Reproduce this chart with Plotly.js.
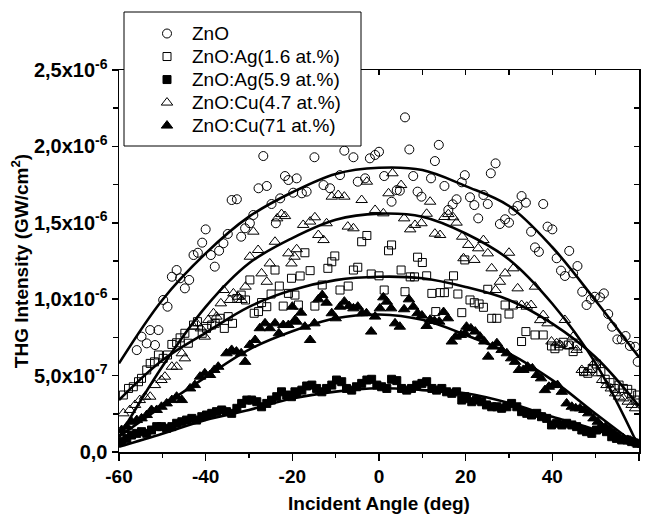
<!DOCTYPE html>
<html>
<head>
<meta charset="utf-8">
<script src="https://cdn.plot.ly/plotly-3.0.1.min.js"></script>
<style>html,body{margin:0;padding:0;background:#fff;}#chart{width:649px;height:514px;}</style>
</head>
<body>
<div id="chart"></div>
<script>
// values in units of 1e-6 GW/cm^2
const znoX = [-55.9,-54.8,-53.6,-52.8,-51.7,-50.9,-49.8,-48.8,-47.8,-46.7,-45.9,-44.8,-43.8,-42.8,-41.8,-40.8,-40.0,-38.8,-37.9,-36.9,-35.9,-34.9,-34.0,-32.8,-31.8,-30.9,-29.8,-29.0,-27.8,-26.7,-25.9,-24.8,-23.8,-22.8,-21.7,-20.9,-19.8,-19.0,-17.8,-16.7,-14.9,-12.8,-11.3,-9.0,-8.0,-5.9,-4.9,-3.2,-2.1,-0.9,0.0,1.2,2.9,4.1,4.8,6.0,7.0,7.9,8.9,9.8,12.0,12.9,13.8,15.1,16.0,17.0,17.9,19.1,19.8,21.0,22.0,22.9,24.1,25.1,25.8,26.9,27.9,29.1,30.0,31.0,32.0,32.9,33.9,35.1,36.0,36.9,37.9,38.9,40.0,41.0,42.0,42.9,43.9,44.8,45.8,46.9,47.9,48.9,49.8,51.0,51.9,52.9,53.8,55.0,56.0,56.9,57.9,59.1,59.7];
const znoY = [0.667,0.755,0.711,0.798,0.700,0.798,0.995,0.951,1.147,1.191,1.137,1.071,1.126,1.289,1.304,1.370,1.457,1.289,1.213,1.317,1.366,1.427,1.649,1.654,1.409,1.464,1.497,1.551,1.726,1.937,1.741,1.623,1.497,1.660,1.806,1.780,1.697,1.791,1.693,1.704,1.929,1.747,1.726,1.812,1.972,1.929,1.769,1.791,1.922,1.944,1.965,1.806,1.638,1.714,1.710,2.19,1.98,1.806,1.704,1.671,1.791,1.904,2.01,1.741,1.584,1.621,1.654,1.765,1.812,1.667,1.616,1.529,1.682,1.623,1.824,1.889,1.492,1.523,1.501,1.58,1.610,1.675,1.632,1.442,1.339,1.31,1.623,1.475,1.457,1.268,1.187,1.152,1.316,1.169,1.217,1.049,0.962,0.999,1.016,1.012,1.038,0.903,0.82,0.737,0.737,0.759,0.694,0.689,0.59];

const ag16X = [-59.0,-57.8,-56.7,-55.5,-54.8,-53.6,-52.8,-51.8,-50.9,-49.8,-48.8,-47.8,-46.7,-45.9,-44.8,-44.0,-42.8,-41.9,-40.8,-39.8,-38.6,-37.8,-36.7,-35.7,-34.8,-33.8,-32.8,-31.8,-30.8,-29.8,-28.8,-27.8,-27.1,-25.9,-24.9,-24.0,-23.0,-22.1,-20.9,-20.2,-19.4,-18.6,-18.2,-17.1,-15.9,-14.8,-13.1,-11.8,-10.9,-10.2,-9.0,-7.1,-5.9,-4.9,-4.0,-2.8,-1.8,0.0,1.2,2.2,2.9,5.1,6.0,7.2,8.2,8.9,10.0,11.0,12.2,13.1,14.1,15.1,16.0,17.2,18.2,19.1,19.8,21.0,22.0,23.1,24.1,25.1,26.0,27.2,29.1,30.0,31.0,32.9,33.9,36.0,37.9,39.8,40.6,41.5,42.5,43.7,44.8,45.8,47.2,48.2,49.2,50.2,51.2,52.2,53.3,54.3,55.4,56.4,57.4,58.3,59.1,59.7];
const ag16Y = [0.373,0.416,0.427,0.46,0.482,0.537,0.58,0.59,0.635,0.613,0.635,0.704,0.715,0.747,0.777,0.712,0.831,0.853,0.777,0.809,0.831,0.842,0.875,0.809,0.886,0.842,1.005,1.027,0.995,1.126,0.908,0.919,0.978,0.951,1.034,1.191,1.086,0.955,1.038,1.137,1.027,0.962,1.152,1.304,1.187,0.955,1.093,1.202,1.245,1.283,1.06,1.086,1.191,1.209,1.376,1.417,1.165,1.153,1.06,1.317,1.355,1.191,1.049,1.146,1.146,1.275,1.24,1.153,1.038,0.919,1.043,1.043,1.10,1.153,1.034,0.912,1.257,0.995,0.977,0.969,0.947,1.065,0.875,0.875,0.962,0.903,0.962,0.723,0.788,0.766,0.766,0.694,0.676,0.694,0.718,0.70,0.657,0.694,0.526,0.515,0.547,0.576,0.526,0.476,0.454,0.416,0.438,0.416,0.41,0.384,0.34,0.373];

const ag59X = [-59.4,-58.2,-57.1,-55.9,-54.8,-53.6,-52.5,-51.3,-50.2,-49.0,-47.8,-46.7,-45.5,-44.4,-43.2,-42.1,-40.9,-39.8,-38.6,-37.5,-36.3,-35.2,-34.0,-32.8,-31.7,-30.5,-29.4,-28.2,-27.1,-25.9,-24.8,-23.6,-22.5,-21.3,-20.2,-19.4,-19.0,-17.8,-16.7,-15.5,-14.4,-13.2,-12.1,-10.9,-9.8,-8.6,-7.5,-6.3,-5.2,-4.0,-2.8,-1.7,-0.5,0.6,1.8,2.9,4.1,5.2,6.4,7.5,8.7,9.9,11.0,12.2,13.3,14.5,15.6,16.8,17.9,19.1,19.8,20.2,21.4,22.5,23.7,24.8,26.0,27.2,28.3,29.5,30.6,31.8,32.9,34.1,35.2,36.4,37.5,38.7,39.8,41.0,42.2,43.3,44.5,45.6,46.8,47.9,49.1,50.2,51.4,52.5,53.7,54.8,56.0,57.2,58.3,59.5];
const ag59Y = [0.068,0.089,0.111,0.122,0.133,0.122,0.144,0.166,0.166,0.155,0.166,0.188,0.198,0.209,0.22,0.209,0.231,0.242,0.253,0.264,0.275,0.264,0.253,0.286,0.318,0.34,0.34,0.329,0.296,0.318,0.34,0.362,0.394,0.373,0.362,0.394,0.384,0.405,0.432,0.438,0.416,0.394,0.416,0.438,0.471,0.46,0.416,0.405,0.427,0.449,0.471,0.476,0.438,0.427,0.416,0.476,0.467,0.416,0.405,0.416,0.438,0.449,0.46,0.416,0.405,0.416,0.394,0.384,0.394,0.34,0.362,0.351,0.329,0.34,0.329,0.308,0.296,0.296,0.286,0.296,0.318,0.296,0.264,0.253,0.242,0.253,0.231,0.22,0.177,0.188,0.177,0.188,0.177,0.166,0.144,0.133,0.122,0.144,0.155,0.133,0.10,0.089,0.079,0.079,0.068,0.057];

const cu47X = [-59.0,-57.5,-56.3,-55.2,-54.0,-52.8,-51.7,-50.2,-49.4,-47.8,-46.7,-45.5,-44.8,-42.8,-42.1,-41.1,-40.2,-39.4,-38.2,-37.5,-36.5,-35.9,-34.4,-33.6,-32.5,-31.7,-30.8,-29.8,-29.0,-27.9,-27.1,-25.9,-25.2,-24.0,-23.5,-22.5,-21.7,-20.9,-20.2,-19.5,-19.0,-17.5,-15.9,-14.8,-14.0,-12.8,-12.1,-10.9,-9.4,-8.0,-7.2,-5.9,-4.0,-2.8,-0.9,1.0,2.2,3.1,5.1,5.8,7.2,8.3,9.8,11.0,11.8,12.9,14.1,15.1,16.0,17.1,17.9,19.2,19.5,20.6,22.0,22.9,24.1,25.1,26.0,26.9,27.9,29.1,30.0,31.0,32.0,32.9,34.1,35.1,36.0,37.2,37.9,38.9,39.8,41.0,41.8,42.9,43.8,44.8,45.6,46.8,47.8,48.7,49.7,50.6,51.5,52.5,53.5,54.5,55.4,56.4,57.4,58.3,59.1];
const cu47Y = [0.253,0.275,0.308,0.340,0.362,0.362,0.438,0.471,0.493,0.558,0.558,0.646,0.613,0.82,0.842,0.809,0.755,0.864,0.908,0.886,0.973,1.06,0.995,1.038,1.016,0.995,1.082,1.278,1.442,1.322,1.169,1.114,1.234,1.376,1.529,1.557,1.544,1.300,1.234,1.278,1.327,1.486,1.508,1.536,1.42,1.387,1.497,1.671,1.682,1.671,1.475,1.464,1.649,1.769,1.584,1.562,1.693,1.824,1.747,1.529,1.457,1.486,1.497,1.559,1.638,1.429,1.42,1.538,1.557,1.536,1.501,1.409,1.268,1.355,1.257,1.333,1.387,1.30,1.202,1.06,1.114,1.169,1.304,1.202,1.071,0.962,0.951,0.962,1.082,0.863,0.896,0.842,0.723,0.712,0.701,0.864,0.694,0.755,0.668,0.537,0.52,0.537,0.584,0.515,0.471,0.438,0.416,0.384,0.362,0.351,0.329,0.308,0.286];

const cu71X = [-59.4,-58.2,-57.1,-55.9,-54.8,-53.6,-52.5,-51.3,-50.2,-49.0,-47.8,-46.7,-45.5,-43.6,-42.5,-41.3,-40.2,-39.0,-38.0,-37.1,-35.2,-34.0,-32.9,-31.8,-30.9,-29.8,-28.6,-27.5,-26.3,-25.2,-24.0,-23.1,-22.1,-20.9,-20.0,-19.4,-19.0,-18.0,-17.1,-15.9,-14.9,-14.0,-13.1,-12.1,-10.9,-10.0,-9.0,-8.0,-6.9,-5.9,-4.9,-3.9,-2.9,-1.8,-0.9,0.2,1.0,1.8,2.8,3.7,4.8,5.8,6.9,7.9,8.9,9.9,11.0,11.8,12.8,13.9,14.9,15.9,16.8,17.7,18.9,19.8,20.2,21.2,22.2,23.3,24.3,25.2,26.2,27.2,28.3,29.5,30.5,31.4,32.3,33.3,34.3,35.4,36.4,37.4,38.3,39.2,40.2,41.2,42.2,43.3,44.5,45.4,46.4,47.4,48.3,49.5,50.5,51.4,52.3,53.3,54.3,55.2,56.4,57.4,58.3,59.5];
const cu71Y = [0.144,0.166,0.198,0.209,0.22,0.242,0.275,0.275,0.296,0.318,0.340,0.362,0.340,0.416,0.438,0.493,0.515,0.504,0.537,0.558,0.646,0.668,0.657,0.646,0.59,0.701,0.733,0.81,0.842,0.81,0.842,0.777,0.831,0.831,0.951,0.864,0.853,0.912,0.82,0.733,0.842,0.999,1.027,0.977,0.908,0.875,0.951,0.984,0.955,0.94,0.951,0.908,0.908,0.788,0.886,0.94,1.012,0.984,0.94,0.842,0.82,0.934,0.999,0.951,0.908,0.893,0.825,0.866,0.857,0.853,0.916,0.875,0.723,0.755,0.766,0.777,0.82,0.809,0.788,0.755,0.723,0.624,0.69,0.712,0.668,0.646,0.613,0.59,0.537,0.537,0.558,0.547,0.504,0.482,0.405,0.427,0.438,0.438,0.394,0.318,0.296,0.286,0.286,0.275,0.253,0.22,0.198,0.166,0.166,0.144,0.122,0.10,0.089,0.079,0.068,0.057];

// fitted curves
const fitX = [-60,-50,-40,-30,-20,-10,0,10,20,30,40,50,60];
const fitZnO = [0.58,0.995,1.30,1.54,1.70,1.82,1.86,1.845,1.74,1.61,1.34,0.99,0.62];
const fitCu47 = [0.10,0.56,0.95,1.235,1.40,1.52,1.56,1.54,1.43,1.26,0.97,0.58,0.03];
const fitAg16 = [0.34,0.60,0.78,0.95,1.06,1.125,1.147,1.137,1.08,0.995,0.84,0.62,0.30];
const fitCu71 = [0.10,0.30,0.49,0.67,0.79,0.875,0.90,0.865,0.766,0.646,0.47,0.25,0.035];
const fitAg59 = [0.035,0.12,0.21,0.275,0.35,0.395,0.417,0.405,0.384,0.32,0.23,0.145,0.035];

const legendNames = ['ZnO','ZnO:Ag(1.6 at.%)','ZnO:Ag(5.9 at.%)','ZnO:Cu(4.7 at.%)','ZnO:Cu(71 at.%)'];
const xTicks = [-60,-40,-20,0,20,40,60];
const yTicks = [0,0.5,1.0,1.5,2.0,2.5];
const yTickText = ['0,0','5,0x10<sup>-7</sup>','1,0x10<sup>-6</sup>','1,5x10<sup>-6</sup>','2,0x10<sup>-6</sup>','2,5x10<sup>-6</sup>'];

const FONT = 'Arial, "Liberation Sans", sans-serif';
function lg(t){ return '<span style="font-size:19px">' + t + '</span>'; }
function pts(x, y, name, symbol, size){
  return {x:x, y:y, name:lg(name), type:'scatter', mode:'markers',
    marker:{symbol:symbol, size:size, color:'#000', line:{color:'#000', width:1}}};
}
function fit(y){
  return {x:fitX, y:y, type:'scatter', mode:'lines', showlegend:false, hoverinfo:'skip',
    line:{color:'#000', width:2.6, shape:'spline', smoothing:1}};
}
const data = [
  pts(znoX, znoY, legendNames[0], 'circle-open', 9),
  pts(ag16X, ag16Y, legendNames[1], 'square-open', 8),
  pts(ag59X, ag59Y, legendNames[2], 'square', 8),
  pts(cu47X, cu47Y, legendNames[3], 'triangle-up-open', 10),
  pts(cu71X, cu71Y, legendNames[4], 'triangle-up', 10),
  fit(fitZnO), fit(fitAg16), fit(fitAg59), fit(fitCu47), fit(fitCu71),
  {x:[], y:[], xaxis:'x2', yaxis:'y2', type:'scatter', mode:'markers', showlegend:false}
];
const pw = 520, ph = 382;
const layout = {
  width:649, height:514,
  margin:{l:119, r:10, t:70, b:62, pad:0},
  paper_bgcolor:'#fff', plot_bgcolor:'#fff',
  font:{family:FONT, color:'#000'},
  showlegend:true,
  legend:{x:(142-119)/pw, y:(452-17)/ph, xanchor:'left', yanchor:'top',
    bgcolor:'rgba(0,0,0,0)', borderwidth:0, itemwidth:40,
    font:{family:FONT, size:15.4, color:'#000'}, tracegroupgap:0},
  shapes:[{type:'rect', xref:'paper', yref:'paper', layer:'above',
    x0:(124-119)/pw, x1:(361-119)/pw, y0:(452-146)/ph, y1:(452-12)/ph,
    fillcolor:'#fff', line:{color:'#000', width:1}}],
  xaxis:{range:[-60,60], tickvals:xTicks, ticktext:xTicks.map(String),
    ticks:'outside', ticklen:7, tickwidth:1.5, tickcolor:'#000',
    showline:true, linewidth:1.5, linecolor:'#000', showgrid:false, zeroline:false,
    minor:{tickvals:[-50,-30,-10,10,30,50], ticks:'outside', ticklen:4, tickwidth:1.5, tickcolor:'#000', showgrid:false},
    tickfont:{family:FONT, size:19, weight:'bold', color:'#000'},
    title:{text:'Incident Angle (deg)', font:{family:FONT, size:19, weight:'bold', color:'#000'}, standoff:10}},
  yaxis:{range:[0,2.5], tickvals:yTicks, ticktext:yTickText,
    ticks:'outside', ticklen:6, tickwidth:1.5, tickcolor:'#000',
    showline:true, linewidth:1.5, linecolor:'#000', showgrid:false, zeroline:false,
    minor:{tickvals:[0.25,0.75,1.25,1.75,2.25], ticks:'outside', ticklen:5, tickwidth:1.5, tickcolor:'#000', showgrid:false},
    tickfont:{family:FONT, size:20, weight:'bold', color:'#000'},
    title:{text:'THG Intensity (GW/cm<sup>2</sup>)', font:{family:FONT, size:19, weight:'bold', color:'#000'}, standoff:0}},
  xaxis2:{overlaying:'x', side:'top', anchor:'y2', range:[-60,60], tickvals:xTicks,
    ticks:'inside', ticklen:5, tickwidth:1.5, tickcolor:'#000', showticklabels:false,
    showline:true, linewidth:1.5, linecolor:'#000', showgrid:false, zeroline:false,
    minor:{tickvals:[-50,-30,-10,10,30,50], ticks:'inside', ticklen:5, tickwidth:1.5, tickcolor:'#000', showgrid:false}},
  yaxis2:{overlaying:'y', side:'right', anchor:'x2', range:[0,2.5], tickvals:yTicks,
    ticks:'inside', ticklen:5, tickwidth:1.5, tickcolor:'#000', showticklabels:false,
    showline:true, linewidth:1.5, linecolor:'#000', showgrid:false, zeroline:false,
    minor:{tickvals:[0.25,0.75,1.25,1.75,2.25], ticks:'inside', ticklen:5, tickwidth:1.5, tickcolor:'#000', showgrid:false}}
};
Plotly.newPlot('chart', data, layout, {displayModeBar:false, staticPlot:true});
</script>
</body>
</html>
